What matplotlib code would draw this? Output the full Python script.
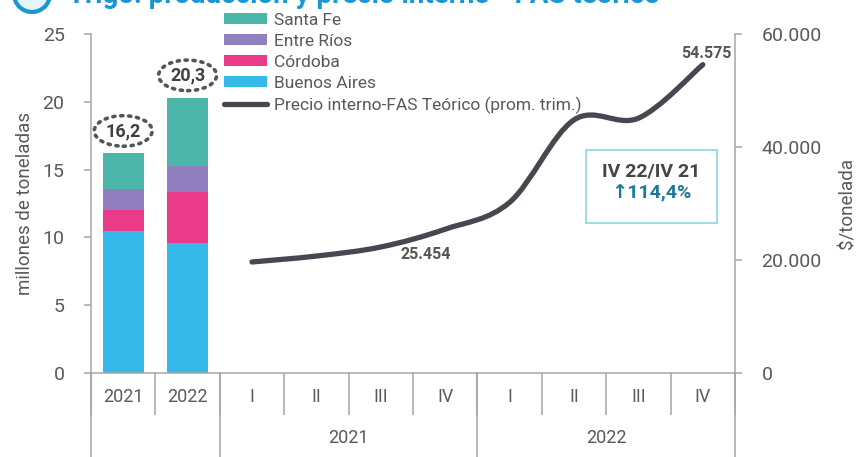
import numpy as np
import matplotlib
matplotlib.use("Agg")
import matplotlib.pyplot as plt
from matplotlib.patches import Ellipse, Rectangle
from matplotlib.path import Path
from matplotlib.patches import PathPatch
from matplotlib.lines import Line2D
from matplotlib.ticker import FuncFormatter
import matplotlib.transforms as mtransforms

plt.rcParams['font.family'] = ['Roboto', 'DejaVu Sans']

# data
cat_labels = ['2021', '2022', 'I', 'II', 'III', 'IV', 'I', 'II', 'III', 'IV']
group_labels = ['2021', '2022']
bar_years = ['2021', '2022']
buenos_aires = [10.5, 9.6]
cordoba = [1.5, 3.75]
entre_rios = [1.55, 1.9]
santa_fe = [2.65, 5.05]
precio = [19650, 20700, 22300, 25454, 30200, 44800, 45100, 54575]

c_ba = '#35b9e9'
c_cor = '#ec3a8a'
c_er = '#9180c0'
c_sf = '#4db6aa'
c_line = '#46484f'
c_grid = '#a6a6a6'
c_txt = '#595959'

fig = plt.figure(figsize=(8.58, 4.57), dpi=100)
ax = fig.add_axes([91/858, 1-373/457, (735-91)/858, (373-34)/457])
ax2 = ax.twinx()

xb = np.arange(len(bar_years))
bottom = np.zeros(len(bar_years))
bars = []
for vals, col, lab in [(buenos_aires, c_ba, 'Buenos Aires'), (cordoba, c_cor, 'Córdoba'),
                       (entre_rios, c_er, 'Entre Ríos'), (santa_fe, c_sf, 'Santa Fe')]:
    b = ax.bar(xb, vals, bottom=bottom, width=0.64, color=col, label=lab, zorder=2)
    bars.append(b)
    bottom = bottom + np.array(vals)

# totals in dotted ellipses
for i, t in enumerate(bottom):
    yc = t + 1.65
    ax.add_patch(Ellipse((xb[i], yc), 0.9, 2.25, fill=False, edgecolor='#555555',
                         linestyle=(0, (0.6, 1.6)), linewidth=2.6, capstyle='round',
                         clip_on=False, zorder=3))
    ax.text(xb[i], yc, f"{t:.1f}".replace('.', ','), ha='center', va='center',
            fontsize=13, fontweight='bold', color='#404040')

ax.set_xlim(-0.5, 9.5)
ax.set_ylim(0, 25)
ax2.set_ylim(0, 60000)

# smoothed price line (bezier through the points)
xp = np.arange(2, 2 + len(precio), dtype=float)
yp = np.array(precio, dtype=float)
P = np.column_stack([xp, yp])
Pe = np.vstack([P[0], P, P[-1]])
verts = [P[0]]
codes = [Path.MOVETO]
for i in range(len(P) - 1):
    p0, p1, p2, p3 = Pe[i], Pe[i+1], Pe[i+2], Pe[i+3]
    verts += [p1 + (p2 - p0) / 6, p2 - (p3 - p1) / 6, p2]
    codes += [Path.CURVE4] * 3
ax2.add_patch(PathPatch(Path(verts, codes), fill=False, edgecolor=c_line,
                        linewidth=3.8, capstyle='round', zorder=3))

ax2.text(xp[3] - 0.3, precio[3] - 4400, '25.454', ha='center', va='center',
         fontsize=11.5, fontweight='bold', color='#555555')
ax2.text(xp[-1] + 0.05, precio[-1] + 1900, '54.575', ha='center', va='center',
         fontsize=11.5, fontweight='bold', color='#555555')

# axes styling
for a in (ax, ax2):
    a.spines['top'].set_visible(False)
    for s in a.spines.values():
        s.set_color(c_grid)
        s.set_linewidth(1.1)
ax.spines['right'].set_visible(False)
ax2.spines['left'].set_visible(False)
ax2.spines['bottom'].set_visible(False)

ax.set_yticks(range(0, 26, 5))
ax.tick_params(axis='y', colors=c_grid, labelcolor=c_txt, labelsize=14, length=5, width=1.1, pad=14)
ax2.set_yticks([0, 20000, 40000, 60000])
ax2.yaxis.set_major_formatter(FuncFormatter(lambda v, p: f"{int(v):,}".replace(',', '.')))
ax2.tick_params(axis='y', colors=c_grid, labelcolor=c_txt, labelsize=14, length=5, width=1.1, pad=14)

ax.set_xticks(np.arange(len(cat_labels)))
ax.set_xticklabels(cat_labels)
ax.tick_params(axis='x', which='major', length=0, labelsize=13, labelcolor=c_txt, pad=11)
ax.set_xticks(np.arange(-0.5, 10, 1), minor=True)
ax.tick_params(axis='x', which='minor', length=30, width=1.1, color=c_grid, direction='out')

# group separators and group labels
trans = mtransforms.blended_transform_factory(ax.transData, ax.transAxes)
for xs in [-0.5, 1.5, 5.5, 9.5]:
    ax.plot([xs, xs], [0, -0.25], transform=trans, color=c_grid, linewidth=1.1,
            clip_on=False, zorder=1)
ax.text(3.5, -0.192, group_labels[0], transform=trans, ha='center', va='center',
        fontsize=13, color=c_txt)
ax.text(7.5, -0.192, group_labels[1], transform=trans, ha='center', va='center',
        fontsize=13, color=c_txt)

ax.set_ylabel('millones de toneladas', fontsize=13.5, color=c_txt, labelpad=6)
ax2.set_ylabel('$/tonelada', fontsize=13.5, color=c_txt, labelpad=12)

# legend
handles = [bars[3], bars[2], bars[1], bars[0],
           Line2D([], [], color=c_line, linewidth=3.8, solid_capstyle='round')]
labels = ['Santa Fe', 'Entre Ríos', 'Córdoba', 'Buenos Aires',
          'Precio interno-FAS Teórico (prom. trim.)']
fig.legend(handles, labels, loc='upper left', bbox_to_anchor=(224/858, 1-13/457),
           frameon=False, fontsize=12.5, labelcolor=c_txt, handlelength=2.5,
           handleheight=0.6, handletextpad=0.4, labelspacing=0.34, borderpad=0,
           borderaxespad=0)

# variation box
fig.add_artist(Rectangle((586/858, 1-223/457), 131/858, 73/457, transform=fig.transFigure,
                         fill=False, edgecolor='#8fd3e5', linewidth=1.2))
fig.text(651/858, 1-172/457, 'IV 22/IV 21', ha='center', va='center', fontsize=14,
         fontweight='bold', color='#454545')
fig.text(651/858, 1-193/457, '↑114,4%', ha='center', va='center', fontsize=14,
         fontweight='bold', color='#1f7896')

# title cut at the top edge
fig.add_artist(Ellipse((32/858, 1+6/457), 36/858, 36/457, transform=fig.transFigure,
                       facecolor='#e3f4fb', edgecolor='#1a96d4', linewidth=3, clip_on=False))
fig.text(68/858, 1-3/457, 'Trigo: producción y precio interno - FAS teórico', ha='left',
         va='baseline', fontsize=20, fontweight='bold', color='#1a96d4')

fig.savefig('out.png', dpi=100)
